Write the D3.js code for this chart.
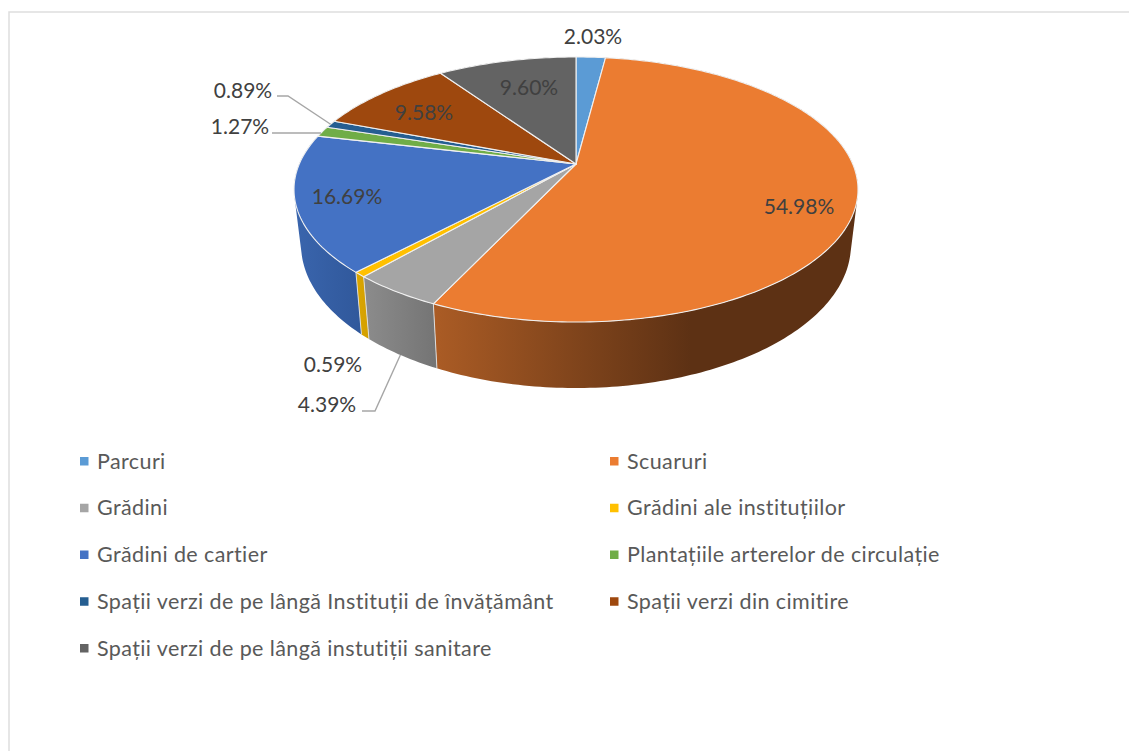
<!DOCTYPE html>
<html>
<head>
<meta charset="utf-8">
<script src="https://cdn.jsdelivr.net/npm/d3@7"></script>
<style>
  html, body { margin: 0; background: #fff; }
  svg { display: block; }
  text { font-family: Lato, "Open Sans", sans-serif; }
</style>
</head>
<body>
<div id="chart"></div>
<script>
var categories = ['Parcuri', 'Scuaruri', 'Grădini', 'Grădini ale instituțiilor', 'Grădini de cartier',
  'Plantațiile arterelor de circulație', 'Spații verzi de pe lângă Instituții de învățământ',
  'Spații verzi din cimitire', 'Spații verzi de pe lângă instutiții sanitare'];
var shares = [2.03, 54.98, 4.39, 0.59, 16.69, 1.27, 0.89, 9.58, 9.60];
var colors = ['#5b9bd5', '#eb7c31', '#a5a5a5', '#ffc000', '#4472c4', '#70ad47', '#255e91', '#9e480e', '#636363'];

// wall shading, left colour to right colour
var wallShades = [
  ['#4a7dab', '#4a7dab'], ['#ab5c25', '#5d3114'], ['#8c8c8c', '#747474'], ['#dba600', '#d29f00'],
  ['#3a65ad', '#30589b'], ['#5a8a38', '#5a8a38'], ['#1e4b74', '#1e4b74'], ['#7e390b', '#7e390b'], ['#4f4f4f', '#4f4f4f']
];

var width = 1129, height = 751;
var cx = 576, cy = 164;

// perspective of the pie plane
var k = 0.1925, a = 276.7, b = 127.6;
var bottomX = 0.975, bottomY = 1.08, bottomRef = 322, bottomAt = 388;

function top3d(angle, r) {
  var X = r * Math.sin(angle), Y = r * Math.cos(angle), w = 1 + k * Y;
  return [cx + a * X / w, cy - b * Y / w];
}
function bottom3d(angle) {
  var p = top3d(angle, 1);
  return [cx + bottomX * (p[0] - cx), bottomAt + bottomY * (p[1] - bottomRef)];
}

var pie = d3.pie().sort(null).value(function(d){ return d; });
var slices = pie(shares);
var line = d3.line();

function arcAngles(d) {
  var n = Math.max(2, Math.ceil((d.endAngle - d.startAngle) * 60));
  return d3.range(n + 1).map(function(i){
    return d.startAngle + (d.endAngle - d.startAngle) * i / n;
  });
}

var svg = d3.select('#chart').append('svg')
  .attr('width', width)
  .attr('height', height);

// chart frame, open on the right and at the bottom
svg.append('path')
  .attr('d', line([[9, height], [9, 12], [width, 12]]))
  .attr('fill', 'none')
  .attr('stroke', '#dedede')
  .attr('stroke-width', 1.5);

var defs = svg.append('defs');

// side walls first, the top faces cover the back part of them
// one path of small quads, all wound the same way, so the silhouette follows the tangent at the sides
slices.forEach(function(d, i){
  var angles = arcAngles(d);
  var xs = angles.map(function(t){ return top3d(t, 1)[0]; })
    .concat(angles.map(function(t){ return bottom3d(t)[0]; }));
  var gradId = 'wall' + i;
  var grad = defs.append('linearGradient')
    .attr('id', gradId)
    .attr('gradientUnits', 'userSpaceOnUse')
    .attr('x1', d3.min(xs)).attr('x2', i === 1 ? cx + 115 : d3.max(xs))
    .attr('y1', 0).attr('y2', 0);
  grad.append('stop').attr('offset', 0).attr('stop-color', wallShades[i][0]);
  grad.append('stop').attr('offset', 1).attr('stop-color', wallShades[i][1]);
  var quads = d3.pairs(angles).map(function(p){
    var quad = [top3d(p[0], 1), top3d(p[1], 1), bottom3d(p[1]), bottom3d(p[0])];
    if (d3.polygonArea(quad) < 0) quad.reverse();
    return line(quad) + 'Z';
  });
  svg.append('path')
    .attr('d', quads.join(''))
    .attr('fill', 'url(#' + gradId + ')');
});

// light seams between the walls
slices.forEach(function(d){
  svg.append('path')
    .attr('d', line([top3d(d.startAngle, 1), bottom3d(d.startAngle)]))
    .attr('stroke', '#e4e4e4')
    .attr('stroke-width', 0.9);
});

// top faces
slices.forEach(function(d, i){
  var rim = arcAngles(d).map(function(t){ return top3d(t, 1); });
  svg.append('path')
    .attr('d', line([[cx, cy]].concat(rim)) + 'Z')
    .attr('fill', colors[i])
    .attr('stroke', '#f0f0f0')
    .attr('stroke-width', 1.1)
    .attr('stroke-linejoin', 'round');
});

// leader lines go from the label elbow to the slice
function along(d, f) { return d.startAngle + (d.endAngle - d.startAngle) * f; }
var greenEnd = top3d(along(slices[5], 0.35), 1);
var leaders = [
  [[277, 96], [288, 96], top3d(along(slices[6], 0.5), 1)],
  [[272, greenEnd[1]], greenEnd],
  [[362, 411], [375, 411], bottom3d(along(slices[2], 0.5))]
];
leaders.forEach(function(l){
  svg.append('path')
    .attr('d', line(l))
    .attr('fill', 'none')
    .attr('stroke', '#a6a6a6')
    .attr('stroke-width', 1.4);
});

// data labels, same order as shares
var labelCenters = [[593, 37], [799, 207], [327, 405], [333, 365], [347, 197], [240, 127], [243, 91], [424, 113], [529, 88]];
shares.forEach(function(v, i){
  svg.append('text')
    .attr('x', labelCenters[i][0])
    .attr('y', labelCenters[i][1])
    .attr('dy', '0.35em')
    .attr('text-anchor', 'middle')
    .attr('fill', '#404040')
    .style('font-size', '21px')
    .text(d3.format('.2f')(v) + '%');
});

// legend, two columns
var rows = d3.scalePoint().domain(d3.range(5)).range([461, 648]);
var cols = d3.scalePoint().domain([0, 1]).range([80, 610]);
categories.forEach(function(name, i){
  var col = i % 2, row = Math.floor(i / 2);
  svg.append('rect')
    .attr('x', cols(col))
    .attr('y', rows(row) - 4)
    .attr('width', 8.5)
    .attr('height', 8.5)
    .attr('fill', colors[i]);
  svg.append('text')
    .attr('x', cols(col) + 17)
    .attr('y', rows(row))
    .attr('dy', '0.35em')
    .attr('fill', '#595959')
    .style('font-size', '21.5px')
    .style('letter-spacing', '0.4px')
    .text(name);
});
</script>
</body>
</html>
